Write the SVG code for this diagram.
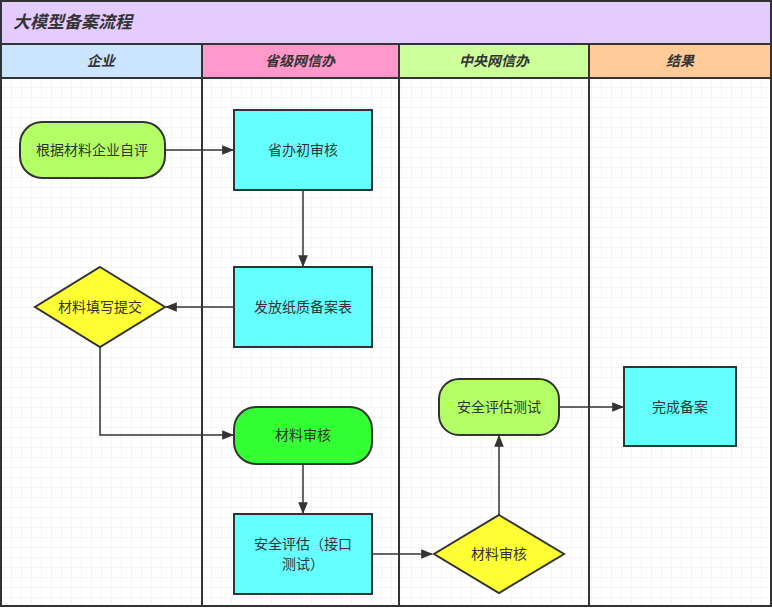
<svg xmlns="http://www.w3.org/2000/svg" width="772" height="609" viewBox="0 0 772 609">
<style>
text{font-family:"Liberation Sans","Noto Sans CJK SC",sans-serif;fill:#333;font-size:14px;text-anchor:middle;dominant-baseline:central}
.h{font-weight:bold;font-style:italic}
.n{stroke:#333;stroke-width:2}
.c{fill:none;stroke:#333;stroke-width:1.5;marker-end:url(#a)}
.l{stroke:#333;stroke-width:2;fill:none}
.b{stroke:#333;stroke-width:2}
</style>
<defs>
<pattern id="g" width="10" height="10" patternUnits="userSpaceOnUse" x="2" y="78"><path d="M10 0V10H0" fill="none" stroke="#ebebeb" stroke-width="1"/></pattern>
<marker id="a" viewBox="0 0 10 10" refX="9" refY="5" markerWidth="12" markerHeight="12" markerUnits="userSpaceOnUse" orient="auto"><path d="M0 1L10 5L0 9Z" fill="#333"/></marker>
</defs>
<rect x="1" y="1" width="770" height="606" fill="#fff"/>
<rect x="1" y="78" width="770" height="528" fill="url(#g)"/>
<g id="title"><rect x="1" y="1" width="770" height="43" fill="#e5ccff" class="b"/><text x="13" y="22" class="h" style="text-anchor:start;font-size:17px">大模型备案流程</text></g>
<g id="lanes">
<rect x="1" y="44" width="201" height="34" fill="#cce5ff" class="b"/><text x="101" y="61" class="h">企业</text>
<rect x="202" y="44" width="197" height="34" fill="#ff99cc" class="b"/><text x="300" y="61" class="h">省级网信办</text>
<rect x="399" y="44" width="190" height="34" fill="#ccff99" class="b"/><text x="494" y="61" class="h">中央网信办</text>
<rect x="589" y="44" width="182" height="34" fill="#ffcc99" class="b"/><text x="680" y="61" class="h">结果</text>
<path d="M202 78V606M399 78V606M589 78V606M1 1V606H771V1" class="l"/>
</g>
<g id="connectors">
<path d="M165 150H233" class="c"/>
<path d="M303 190V266" class="c"/>
<path d="M234 307H166" class="c"/>
<path d="M100 347V435H233" class="c"/>
<path d="M303 464V513" class="c"/>
<path d="M372 554H432" class="c"/>
<path d="M499 515V436" class="c"/>
<path d="M559 407H623" class="c"/>
</g>
<g id="n1"><rect x="20" y="122" width="145" height="56" rx="22" fill="#b3ff66" class="n"/><text x="92" y="150">根据材料企业自评</text></g>
<g id="n2"><rect x="234" y="110" width="138" height="80" fill="#66ffff" class="n"/><text x="303" y="150">省办初审核</text></g>
<g id="n3"><rect x="234" y="267" width="138" height="80" fill="#66ffff" class="n"/><text x="303" y="307">发放纸质备案表</text></g>
<g id="n4"><path d="M100 267L165 307L100 347L35 307Z" fill="#ffff33" class="n"/><text x="100" y="307">材料填写提交</text></g>
<g id="n5"><rect x="234" y="407" width="138" height="57" rx="22" fill="#33ff33" class="n"/><text x="303" y="435">材料审核</text></g>
<g id="n6"><rect x="234" y="514" width="138" height="80" fill="#66ffff" class="n"/><text x="303" y="544">安全评估（接口</text><text x="303" y="564">测试）</text></g>
<g id="n7"><path d="M499 515L564 554L499 593L434 554Z" fill="#ffff33" class="n"/><text x="499" y="554">材料审核</text></g>
<g id="n8"><rect x="439" y="379" width="120" height="56" rx="20" fill="#b3ff66" class="n"/><text x="499" y="407">安全评估测试</text></g>
<g id="n9"><rect x="624" y="367" width="112" height="79" fill="#66ffff" class="n"/><text x="680" y="407">完成备案</text></g>
</svg>
